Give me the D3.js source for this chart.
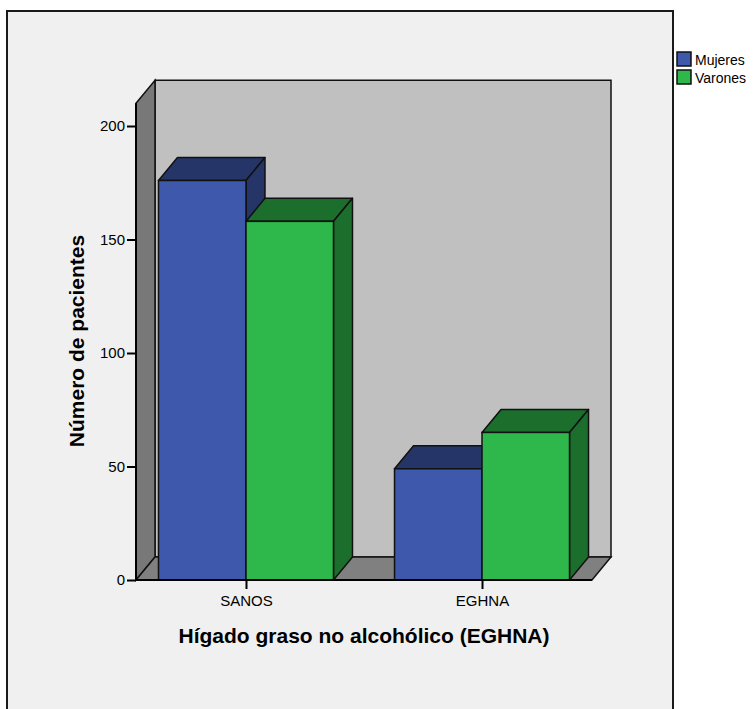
<!DOCTYPE html>
<html>
<head>
<meta charset="utf-8">
<script src="https://cdn.jsdelivr.net/npm/d3@7"></script>
<style>
  html, body { margin: 0; padding: 0; background: #ffffff; }
  svg { display: block; font-family: Arial, "Liberation Sans", sans-serif; }
</style>
</head>
<body>
<svg id="chart" width="756" height="709"></svg>
<script>
// Patients by liver status and sex
const categories = ["SANOS", "EGHNA"];
const seriesNames = ["Mujeres", "Varones"];
const mujeres = [176, 49];
const varones = [158, 65];
const yTicks = [0, 50, 100, 150, 200];
const yTitle = "Número de pacientes";
const xTitle = "Hígado graso no alcohólico (EGHNA)";

const colors = {
  Mujeres: { front: "#3e58ab", top: "#263568", side: "#263568" },
  Varones: { front: "#2eb84b", top: "#1c6e2d", side: "#1c6e2d" }
};

const svg = d3.select("#chart");

// outer chart frame
svg.append("rect")
  .attr("x", 7).attr("y", 11).attr("width", 666).attr("height", 720)
  .attr("fill", "#f0f0f0").attr("stroke", "#1a1a1a").attr("stroke-width", 2);

// plot geometry
const plotLeft = 136, plotRight = 592;
const dx = 19, dy = 23;

const y = d3.scaleLinear().domain([0, 200]).range([580, 126]);
const yTopVal = 210;
const x = d3.scalePoint().domain(categories).range([plotLeft, plotRight]).padding(0.466);
const inner = d3.scaleBand().domain(seriesNames).range([-87.5, 87.5]);

const yBase = y(0), yTopEdge = y(yTopVal);
const strokeW = 1.5;

const g = svg.append("g");

// back wall
g.append("polygon")
  .attr("points", [[plotLeft + dx, yTopEdge - dy], [plotRight + dx, yTopEdge - dy], [plotRight + dx, yBase - dy], [plotLeft + dx, yBase - dy]].join(" "))
  .attr("fill", "#c0c0c0").attr("stroke", "#111").attr("stroke-width", strokeW);
// left wall
g.append("polygon")
  .attr("points", [[plotLeft, yTopEdge], [plotLeft + dx, yTopEdge - dy], [plotLeft + dx, yBase - dy], [plotLeft, yBase]].join(" "))
  .attr("fill", "#787878").attr("stroke", "#111").attr("stroke-width", strokeW);
// floor
g.append("polygon")
  .attr("points", [[plotLeft, yBase], [plotLeft + dx, yBase - dy], [plotRight + dx, yBase - dy], [plotRight, yBase]].join(" "))
  .attr("fill", "#808080").attr("stroke", "#111").attr("stroke-width", strokeW);

// bars
const rows = [];
categories.forEach((c, i) => {
  rows.push({ cat: c, series: "Mujeres", value: mujeres[i] });
  rows.push({ cat: c, series: "Varones", value: varones[i] });
});

rows.forEach(d => {
  const bx0 = x(d.cat) + inner(d.series);
  const bx1 = bx0 + inner.bandwidth();
  const yt = y(d.value);
  const col = colors[d.series];
  const bar = g.append("g");
  bar.append("polygon")
    .attr("points", [[bx0, yt], [bx0 + dx, yt - dy], [bx1 + dx, yt - dy], [bx1, yt]].join(" "))
    .attr("fill", col.top).attr("stroke", "#111").attr("stroke-width", strokeW).attr("stroke-linejoin", "round");
  bar.append("polygon")
    .attr("points", [[bx1, yt], [bx1 + dx, yt - dy], [bx1 + dx, yBase - dy], [bx1, yBase]].join(" "))
    .attr("fill", col.side).attr("stroke", "#111").attr("stroke-width", strokeW).attr("stroke-linejoin", "round");
  bar.append("rect")
    .attr("x", bx0).attr("y", yt).attr("width", bx1 - bx0).attr("height", yBase - yt)
    .attr("fill", col.front).attr("stroke", "#111").attr("stroke-width", strokeW);
});

// front axis lines
g.append("line").attr("x1", plotLeft).attr("x2", plotLeft).attr("y1", yTopEdge).attr("y2", yBase)
  .attr("stroke", "#000").attr("stroke-width", 2);
g.append("line").attr("x1", plotLeft).attr("x2", plotRight).attr("y1", yBase).attr("y2", yBase)
  .attr("stroke", "#000").attr("stroke-width", 2);

// y axis
const yAxis = svg.append("g").attr("transform", `translate(${plotLeft},0)`)
  .call(d3.axisLeft(y).tickValues(yTicks).tickSize(9).tickSizeOuter(0).tickPadding(2));
yAxis.select(".domain").remove();
yAxis.selectAll(".tick line").attr("stroke", "#000").attr("stroke-width", 2);
yAxis.selectAll(".tick text").attr("fill", "#000").style("font-size", "15px")
  .style("font-family", "Arial, 'Liberation Sans', sans-serif");

// x axis
const xAxis = svg.append("g").attr("transform", `translate(0,${yBase})`)
  .call(d3.axisBottom(x).tickSize(9).tickSizeOuter(0).tickPadding(6));
xAxis.select(".domain").remove();
xAxis.selectAll(".tick line").attr("stroke", "#000").attr("stroke-width", 2);
xAxis.selectAll(".tick text").attr("fill", "#000").style("font-size", "15px")
  .style("font-family", "Arial, 'Liberation Sans', sans-serif");

// axis titles
svg.append("text")
  .attr("transform", "translate(84,341) rotate(-90)")
  .attr("text-anchor", "middle")
  .style("font-size", "21px").style("font-weight", "bold").attr("fill", "#000")
  .text(yTitle);
svg.append("text")
  .attr("x", 364).attr("y", 643)
  .attr("text-anchor", "middle")
  .style("font-size", "21px").style("font-weight", "bold").attr("fill", "#000")
  .text(xTitle);

// legend
const legend = svg.append("g").attr("transform", "translate(677,52)");
seriesNames.forEach((s, i) => {
  const row = legend.append("g").attr("transform", `translate(0,${i * 18})`);
  row.append("rect").attr("x", 0).attr("y", 0).attr("width", 14).attr("height", 14)
    .attr("fill", colors[s].front).attr("stroke", "#111").attr("stroke-width", 1.5);
  row.append("text").attr("x", 18).attr("y", 13)
    .style("font-size", "14px").attr("fill", "#000").text(s);
});
</script>
</body>
</html>
